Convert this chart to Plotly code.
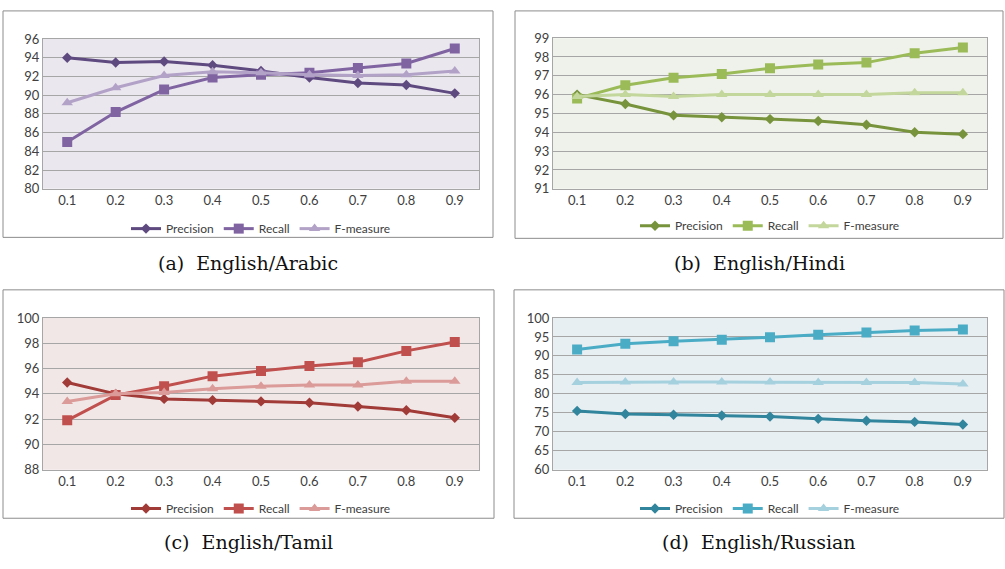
import plotly.graph_objects as go

# Threshold values on the x axis
thresholds = ["0.1", "0.2", "0.3", "0.4", "0.5", "0.6", "0.7", "0.8", "0.9"]
series_names = ["Precision", "Recall", "F-measure"]

# English/Arabic
arabic_precision = [94.0, 93.5, 93.6, 93.2, 92.6, 91.9, 91.3, 91.1, 90.2]
arabic_recall = [85.0, 88.2, 90.6, 91.9, 92.2, 92.4, 92.9, 93.4, 95.0]
arabic_fmeasure = [89.2, 90.8, 92.1, 92.5, 92.4, 92.2, 92.1, 92.2, 92.6]

# English/Hindi
hindi_precision = [96.0, 95.5, 94.9, 94.8, 94.7, 94.6, 94.4, 94.0, 93.9]
hindi_recall = [95.8, 96.5, 96.9, 97.1, 97.4, 97.6, 97.7, 98.2, 98.5]
hindi_fmeasure = [95.9, 96.0, 95.9, 96.0, 96.0, 96.0, 96.0, 96.1, 96.1]

# English/Tamil
tamil_precision = [94.9, 94.0, 93.6, 93.5, 93.4, 93.3, 93.0, 92.7, 92.1]
tamil_recall = [91.9, 93.9, 94.6, 95.4, 95.8, 96.2, 96.5, 97.4, 98.1]
tamil_fmeasure = [93.4, 94.0, 94.1, 94.4, 94.6, 94.7, 94.7, 95.0, 95.0]

# English/Russian
russian_precision = [75.5, 74.7, 74.5, 74.3, 74.0, 73.4, 72.9, 72.6, 71.9]
russian_recall = [91.7, 93.2, 93.9, 94.3, 94.9, 95.6, 96.2, 96.7, 97.0]
russian_fmeasure = [83.0, 83.1, 83.1, 83.1, 83.1, 83.0, 83.0, 83.0, 82.6]

captions = ["(a)  English/Arabic", "(b)  English/Hindi",
            "(c)  English/Tamil", "(d)  English/Russian"]

W, H = 1005, 569

panels = [
    dict(data=[arabic_precision, arabic_recall, arabic_fmeasure],
         colors=["#5F4A80", "#8064A2", "#B3A2C7"], bg="#EBE7EF",
         yrange=[80, 96], dtick=2,
         plot=(43, 479, 32, 186), box=(3, 493, 3, 236), legend_y=227, cap_y=262),
    dict(data=[hindi_precision, hindi_recall, hindi_fmeasure],
         colors=["#77933C", "#9BBB59", "#C3D69B"], bg="#EFF2EA",
         yrange=[91, 99], dtick=1,
         plot=(553, 987, 31, 186), box=(515, 1003, 3, 237), legend_y=224, cap_y=262),
    dict(data=[tamil_precision, tamil_recall, tamil_fmeasure],
         colors=["#A03B38", "#C0504D", "#DA9B99"], bg="#F2E7E7",
         yrange=[88, 100], dtick=2,
         plot=(43, 479, 319, 475), box=(3, 494, 290, 525), legend_y=515, cap_y=549),
    dict(data=[russian_precision, russian_recall, russian_fmeasure],
         colors=["#31859C", "#4BACC6", "#A5D0DE"], bg="#E8EFF3",
         yrange=[60, 100], dtick=5,
         plot=(553, 987, 319, 475), box=(514, 1004, 290, 525), legend_y=515, cap_y=549),
]

symbols = ["diamond", "square", "triangle-up"]
msizes = [8, 10, 10]

fig = go.Figure()
shapes = []
annotations = []
layout = {}

for i, p in enumerate(panels):
    n = "" if i == 0 else str(i + 1)
    xa, ya = "x" + n, "y" + n
    leg = "legend" + n
    x0, x1, y0, y1 = p["plot"]
    for j in range(3):
        fig.add_trace(go.Scatter(
            x=thresholds, y=p["data"][j], name=series_names[j],
            mode="lines+markers", xaxis=xa, yaxis=ya, legend=leg,
            line=dict(color=p["colors"][j], width=3),
            marker=dict(symbol=symbols[j], size=msizes[j], color=p["colors"][j]),
        ))
    layout["xaxis" + n] = dict(
        domain=[x0 / W, x1 / W], anchor=ya, type="category",
        range=[-0.5, 8.5], showgrid=False, zeroline=False,
        showline=True, linecolor="#A6A6A6", mirror=True,
        ticks="", tickfont=dict(family="Lato", size=13, color="#404040"),
        fixedrange=True,
    )
    layout["yaxis" + n] = dict(
        domain=[1 - y1 / H, 1 - y0 / H], anchor=xa,
        range=p["yrange"], dtick=p["dtick"], tick0=p["yrange"][0],
        showgrid=True, gridcolor="#A6A6A6", gridwidth=1, zeroline=False,
        showline=True, linecolor="#A6A6A6", mirror=True,
        ticks="", tickfont=dict(family="Lato", size=13, color="#404040"),
        fixedrange=True,
    )
    shapes.append(dict(type="rect", xref="paper", yref="paper",
                       x0=x0 / W, x1=x1 / W, y0=1 - y1 / H, y1=1 - y0 / H,
                       fillcolor=p["bg"], line=dict(width=0), layer="below"))
    bx0, bx1, by0, by1 = p["box"]
    shapes.append(dict(type="rect", xref="paper", yref="paper",
                       x0=bx0 / W, x1=bx1 / W, y0=1 - by1 / H, y1=1 - by0 / H,
                       line=dict(color="#8C8C8C", width=1), fillcolor="rgba(0,0,0,0)"))
    layout[leg] = dict(
        orientation="h", x=(x0 + x1) / 2 / W, xanchor="center",
        y=1 - p["legend_y"] / H, yanchor="middle",
        font=dict(family="Lato", size=12, color="#404040"),
        bgcolor="rgba(0,0,0,0)", itemwidth=30, tracegroupgap=0,
    )
    annotations.append(dict(
        text=captions[i], xref="paper", yref="paper",
        x=((bx0 + bx1) / 2) / W, y=1 - p["cap_y"] / H,
        xanchor="center", yanchor="middle", showarrow=False,
        font=dict(family="DejaVu Serif", size=19, color="#111111"),
    ))

fig.update_layout(
    width=W, height=H, margin=dict(l=0, r=0, t=0, b=0),
    paper_bgcolor="white", plot_bgcolor="rgba(0,0,0,0)",
    shapes=shapes, annotations=annotations, **layout,
)

fig.write_html("out.html")
